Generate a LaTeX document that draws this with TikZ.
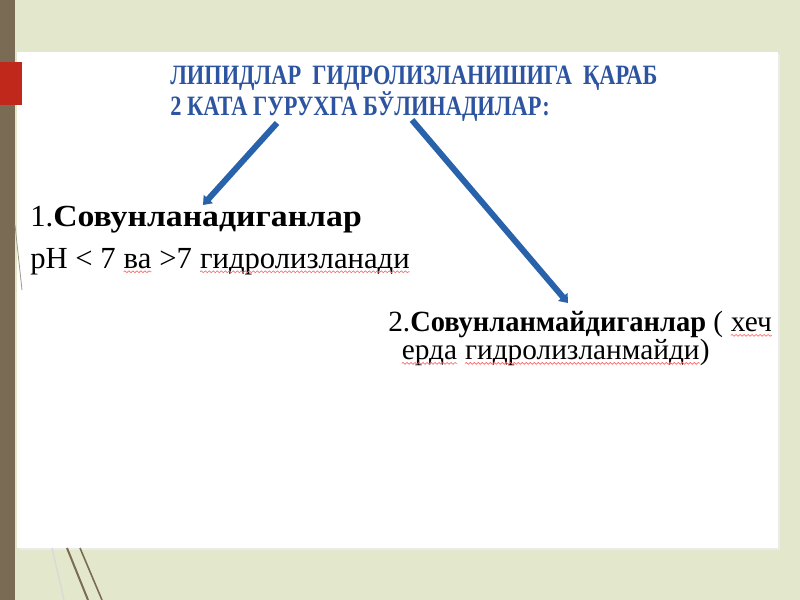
\documentclass[tikz,border=0pt]{standalone}
\usepackage{fontspec}
\setmainfont{Liberation Serif}
\newfontfamily\titlefont[FakeStretch=0.8]{Liberation Serif}
\newfontfamily\widebold[FakeStretch=1.1]{Liberation Serif}
\newfontfamily\narrowbold[FakeStretch=0.97]{Liberation Serif}
\usetikzlibrary{arrows.meta,decorations.pathmorphing}
\definecolor{bgc}{RGB}{227,232,204}
\definecolor{brownc}{RGB}{122,108,84}
\definecolor{redc}{RGB}{192,40,28}
\definecolor{arrc}{RGB}{40,98,170}
\definecolor{titc}{RGB}{44,84,160}
\newcommand\redwave[1]{\tikz[baseline=(w.base)]{\node[inner sep=0pt,outer sep=0pt] (w) {#1};\draw[red!60, line width=0.5pt, decorate, decoration={snake,amplitude=0.7pt,segment length=3pt}] ([yshift=-2.8pt]w.base west) -- ([yshift=-2.8pt]w.base east);}}
\tikzset{
  conn/.style={draw=arrc, line width=4.5pt, -{Triangle[width=9pt,length=6pt]}},
  titletext/.style={font=\titlefont\bfseries\fontsize{21}{22}\selectfont, text=titc, align=left, anchor=north west, inner sep=0pt},
  bodytext/.style={font=\fontsize{23}{24}\selectfont, anchor=base west, inner sep=0pt},
  bodytexttwo/.style={font=\fontsize{22}{20}\selectfont, anchor=north west, inner sep=0pt, align=left}
}
\begin{document}
\begin{tikzpicture}[x=0.75pt,y=-0.75pt]
\useasboundingbox (0,0) rectangle (800,600);
% background
\fill[bgc] (0,0) rectangle (800,600);
\fill[brownc] (0,0) rectangle (15,600);
% white panel
\fill[black!8] (19,54) rectangle (780,550);
\fill[white] (17,52) rectangle (778,548);
% red square
\fill[redc] (0,62) rectangle (22,105);
% thin decorative lines
\draw[brownc!70, line width=0.6pt] (15,225) -- (22,290);
\draw[brownc, line width=1.5pt] (67,548) -- (88,600);
\draw[brownc, line width=1.2pt] (80,548) -- (102,600);
\draw[black!15, line width=1pt] (52,548) -- (64,600);
% title
\node[titletext] (title) at (170,66) {ЛИПИДЛАР\ \ ГИДРОЛИЗЛАНИШИГА\ \ ҚАРАБ\\2 КАТА ГУРУХГА БЎЛИНАДИЛАР:};
% coordinates for arrow starts
\coordinate (s1) at (277,123);
\coordinate (s2) at (412,120);
% group 1
\node[bodytext] (g1) at (30,226) {1.{\widebold\bfseries Совунланадиганлар}};
\node[bodytext] (g1b) at (30,268) {pH < 7 \redwave{ва} >7 \redwave{гидролизланади}};
% group 2
\node[bodytexttwo] (g2) at (388,311) {2.{\narrowbold\bfseries Совунланмайдиганлар} ( \redwave{хеч}\\\hspace{0.45em}\redwave{ерда} \redwave{гидролизланмайди})};
% arrows
\coordinate (e1) at (203,205);
\coordinate (e2) at (568,303);
\draw[conn] (s1) -- (e1);
\draw[conn] (s2) -- (e2);
\end{tikzpicture}
\end{document}
